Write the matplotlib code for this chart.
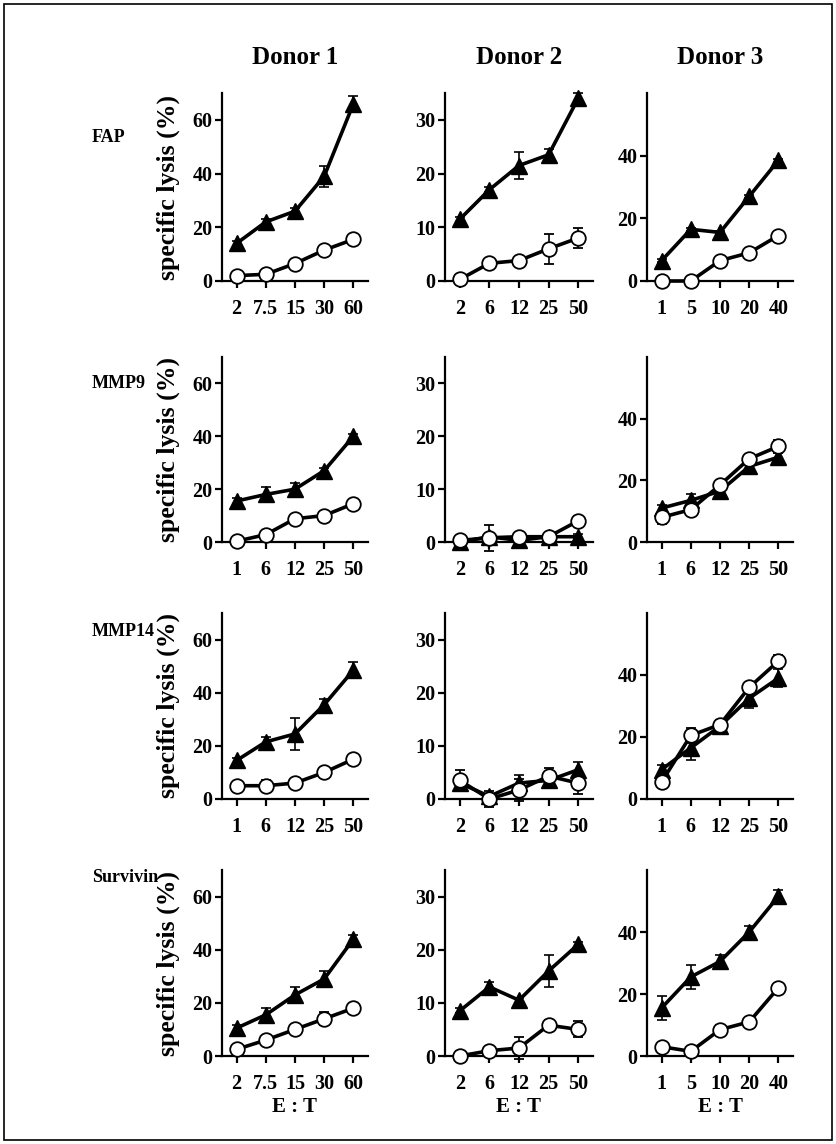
import matplotlib.pyplot as plt
import matplotlib.patches as patches
import numpy as np

plt.rcParams['font.family'] = ['Liberation Serif', 'DejaVu Serif']
plt.rcParams['font.weight'] = 'bold'

donors = ['Donor 1', 'Donor 2', 'Donor 3']
antigens = ['FAP', 'MMP9', 'MMP14', 'Survivin']

# E:T tick labels per panel (row, column)
et_labels = [
    [['2', '7.5', '15', '30', '60'], ['2', '6', '12', '25', '50'], ['1', '5', '10', '20', '40']],
    [['1', '6', '12', '25', '50'], ['2', '6', '12', '25', '50'], ['1', '6', '12', '25', '50']],
    [['1', '6', '12', '25', '50'], ['2', '6', '12', '25', '50'], ['1', '6', '12', '25', '50']],
    [['2', '7.5', '15', '30', '60'], ['2', '6', '12', '25', '50'], ['1', '5', '10', '20', '40']],
]

# filled triangles (specific lysis %) and error
tri = [
    [[14, 22, 26, 39, 66], [11.5, 17, 21.5, 23.5, 34], [6.5, 16.5, 15.5, 27, 38.5]],
    [[15.5, 18, 20, 27, 40], [0, 1, 0.3, 1, 1], [11, 13.5, 16.5, 24.5, 27.5]],
    [[14.5, 21.5, 24.5, 35.5, 48.5], [3, 0.5, 3, 3.5, 5.5], [9.5, 16.5, 23.5, 32.5, 39]],
    [[10.5, 15.5, 23, 29, 44], [8.5, 13, 10.5, 16, 21], [15.5, 25.5, 30.5, 40, 51.5]],
]
tri_err = [
    [[1, 1, 1, 4, 3], [0.5, 0.5, 2.5, 1, 1], [0.5, 0.5, 0.5, 0.5, 0.5]],
    [[1, 3, 2.5, 1, 1], [0.5, 0.5, 0.5, 0.5, 0.5], [1, 2, 1, 1, 1.5]],
    [[1, 2, 6, 2, 3], [1, 0.5, 1.5, 1, 1.5], [1.5, 4, 2, 3, 3]],
    [[1, 2.5, 3, 3, 1.5], [0.5, 1, 0.5, 3, 0.5], [4, 4, 2, 2, 2]],
]

# open circles (specific lysis %) and error
circ = [
    [[2, 2.5, 6.5, 11.5, 15.5], [0.3, 3.3, 3.8, 6, 8], [0, 0, 6.5, 9, 14.5]],
    [[0.3, 2.8, 8.8, 10, 14.5], [0.3, 0.8, 1, 1, 4], [8, 10.5, 18.5, 27, 31]],
    [[5, 5, 6, 10, 15], [3.5, 0, 1.7, 4.3, 3], [5.5, 20.5, 24, 36, 44.5]],
    [[2.5, 6, 10, 14, 18], [0, 1, 1.5, 5.8, 5], [3, 1.5, 8.5, 11, 22]],
]
circ_err = [
    [[0.5, 0.5, 0.5, 1, 1], [0.3, 0.5, 0.5, 2.8, 1.8], [0.3, 0.3, 0.5, 0.5, 0.8]],
    [[0.3, 0.5, 0.8, 1, 1], [0.5, 2.5, 0.5, 0.5, 1], [2, 1, 1, 1, 2]],
    [[0.5, 2, 1, 1, 1], [2, 1.5, 2, 1.5, 2], [1.5, 2.5, 1.5, 1.5, 2]],
    [[1, 1, 1, 2.5, 1.5], [1, 0.5, 2, 1, 1.5], [1, 0.5, 1.5, 1, 1]],
]

y_max = [70, 35, 60]
y_ticks = [[0, 20, 40, 60], [0, 10, 20, 30], [0, 20, 40]]

W, H = 836, 1144
fig = plt.figure(figsize=(W / 100, H / 100), dpi=100)

# frame round the whole figure
fig.add_artist(patches.Rectangle((4 / W, 4 / H), 828 / W, 1136 / H, transform=fig.transFigure,
                                 fill=False, edgecolor='black', linewidth=1.2))

col_x = [(222, 368), (445, 593), (647, 793)]
row_y = [(93, 281), (357, 542), (613, 799), (870, 1056)]
label_y = [137, 383, 631, 878]

for c in range(3):
    x0, x1 = col_x[c]
    fig.text((x0 + x1) / 2 / W, 1 - 57 / H, donors[c], fontsize=18, fontweight='bold',
             ha='center', va='center')

for r in range(4):
    fig.text(92 / W, 1 - label_y[r] / H, antigens[r], fontsize=13, fontweight='bold',
             ha='left', va='center')
    for c in range(3):
        x0, x1 = col_x[c]
        y0, y1 = row_y[r]
        ax = fig.add_axes([x0 / W, 1 - y1 / H, (x1 - x0) / W, (y1 - y0) / H])
        x = np.arange(5)
        ax.errorbar(x, tri[r][c], yerr=tri_err[r][c], color='black', linewidth=2.6,
                    marker='^', markersize=11, markerfacecolor='black', elinewidth=1.2,
                    capsize=3.5, capthick=1.2, zorder=3, clip_on=False)
        ax.errorbar(x, circ[r][c], yerr=circ_err[r][c], color='black', linewidth=2.6,
                    marker='o', markersize=10.5, markerfacecolor='white', markeredgewidth=1.3,
                    elinewidth=1.2, capsize=3.5, capthick=1.2, zorder=4, clip_on=False)
        ax.set_xlim(-0.5, 4.5)
        ax.set_ylim(0, y_max[c])
        ax.set_yticks(y_ticks[c])
        ax.set_xticks(x)
        ax.set_xticklabels(et_labels[r][c])
        for s in ['top', 'right']:
            ax.spines[s].set_visible(False)
        for s in ['left', 'bottom']:
            ax.spines[s].set_linewidth(1.6)
        ax.tick_params(direction='out', length=5, width=1.6, labelsize=14.5)
        ax.tick_params(axis='x', pad=8)
        ax.tick_params(axis='y', pad=2)
        for lbl in ax.get_xticklabels() + ax.get_yticklabels():
            lbl.set_fontweight('bold')
        if c == 0:
            fig.text(168 / W, 1 - (y0 + y1) / 2 / H, 'specific lysis (%)', fontsize=18.5,
                     fontweight='bold', rotation=90, ha='center', va='center')
        if r == 3:
            ax.set_xlabel('E : T', fontsize=15, fontweight='bold', labelpad=2)

fig.savefig('out.png', dpi=100)
